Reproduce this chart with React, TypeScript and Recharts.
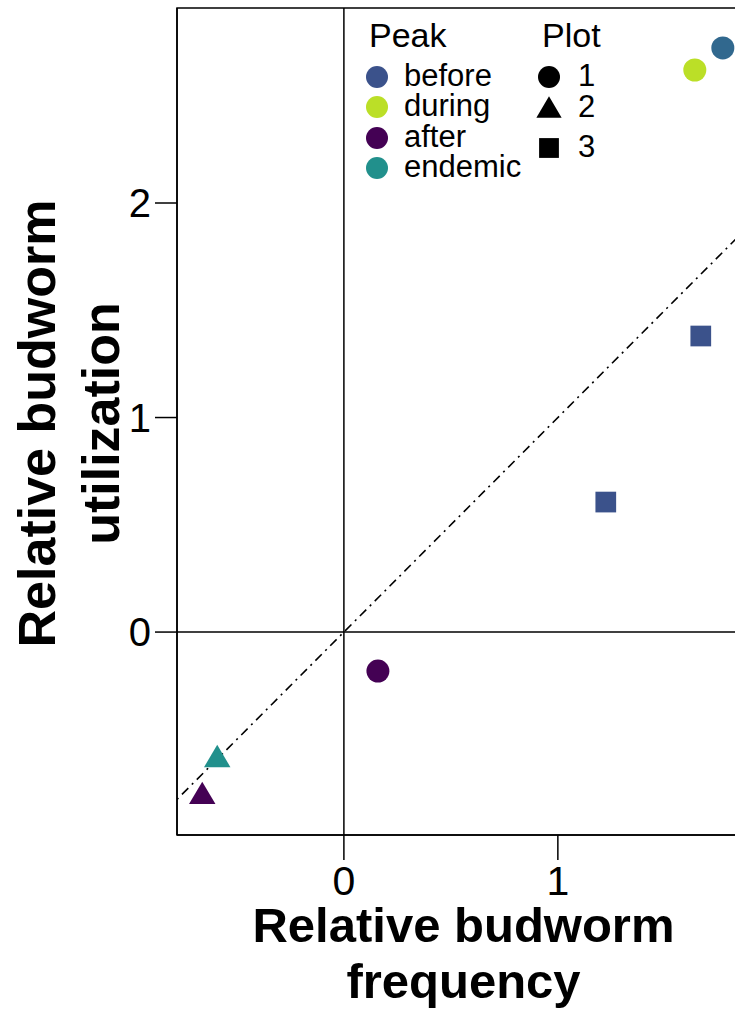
import React from "react";
import {
  ScatterChart, Scatter, XAxis, YAxis, ReferenceLine, ReferenceArea, Legend,
} from "recharts";

// peak timing groups, in legend order
const peakNames = ["before", "during", "after", "endemic"];
const peakColors = ["#3B528B", "#BBDF27", "#440154", "#21908C"];
// one point sits in a colour that the legend does not list
const extraPeak = "other";
const extraColor = "#31688E";

const plotIds = [1, 2, 3];

// one entry per point
const pointPeak = ["other", "during", "before", "before", "after", "endemic", "after"];
const pointPlot = [1, 1, 3, 3, 1, 2, 2];
const frequency = [1.771, 1.64, 1.668, 1.224, 0.159, -0.592, -0.662];
const utilization = [2.723, 2.62, 1.38, 0.606, -0.182, -0.583, -0.755];

const xTicks = [0, 1];
const yTicks = [0, 1, 2];
const xDomain: [number, number] = [-0.78, 1.898];
const yDomain: [number, number] = [-0.946, 2.909];

const points = frequency.map((f, i) => ({
  freq: f, util: utilization[i], peak: pointPeak[i], plot: pointPlot[i],
}));

const FONT = "'Liberation Sans', Arial, Helvetica, sans-serif";

const mark = (plot: number, cx: number, cy: number, color: string, r = 11.5) => {
  if (plot === 2) {
    const h = r * 1.95;
    const w = r * 2.3;
    return <polygon points={`${cx},${cy - h * 0.55} ${cx - w / 2},${cy + h * 0.45} ${cx + w / 2},${cy + h * 0.45}`} fill={color} />;
  }
  if (plot === 3) {
    const s = r * 0.9;
    return <rect x={cx - s} y={cy - s} width={s * 2} height={s * 2} fill={color} />;
  }
  return <circle cx={cx} cy={cy} r={r} fill={color} />;
};

const shapeFor = (color: string) => (props: any) => {
  const { cx, cy, payload } = props;
  if (cx == null || cy == null) return <g />;
  return mark(payload.plot, cx, cy, color);
};

function LegendBox() {
  const peakY = [77, 107, 138, 168];
  const plotY = [77, 108, 148];
  return (
    <svg width={735} height={200} style={{ fontFamily: FONT, overflow: "visible" }}>
      <text x={369} y={35} fontSize={34} dominantBaseline="central" fill="#000">Peak</text>
      {peakNames.map((p, i) => (
        <g key={p}>
          <circle cx={377} cy={peakY[i]} r={11} fill={peakColors[i]} />
          <text x={404} y={peakY[i] - 2} fontSize={31} dominantBaseline="central" fill="#000">{p}</text>
        </g>
      ))}
      <text x={542} y={35} fontSize={34} dominantBaseline="central" fill="#000">Plot</text>
      {plotIds.map((p, i) => (
        <g key={p}>
          {mark(p, 549, plotY[i], "#000", 11)}
          <text x={578} y={plotY[i] - 2} fontSize={31} dominantBaseline="central" fill="#000">{p}</text>
        </g>
      ))}
    </svg>
  );
}

export default function App() {
  const groups = [...peakNames, extraPeak];
  const colorOf = (p: string) => (p === extraPeak ? extraColor : peakColors[peakNames.indexOf(p)]);

  return (
    <div style={{ position: "fixed", left: 0, top: 0, width: 735, height: 1017, overflow: "hidden", background: "#fff", fontFamily: FONT }}>
      <ScatterChart width={760} height={1017} margin={{ top: 8, right: 10, left: 0, bottom: 0 }}>
        <XAxis
          type="number" dataKey="freq" domain={xDomain} ticks={xTicks} allowDataOverflow
          height={182} tickSize={25} tickMargin={6}
          axisLine={{ stroke: "#000", strokeWidth: 1.5 }} tickLine={{ stroke: "#000", strokeWidth: 1.5 }}
          tick={{ fill: "#000", fontSize: 41, fontFamily: FONT }}
          label={{
            content: ({ viewBox }: any) => {
              const cx = viewBox.x + viewBox.width / 2;
              return (
                <g fontFamily={FONT} fontWeight="bold" fontSize={49} fill="#000" textAnchor="middle">
                  <text x={cx} y={942}>Relative budworm</text>
                  <text x={cx} y={998}>frequency</text>
                </g>
              );
            },
          }}
        />
        <YAxis
          type="number" dataKey="util" domain={yDomain} ticks={yTicks} allowDataOverflow
          width={177} tickSize={22} tickMargin={4}
          axisLine={{ stroke: "#000", strokeWidth: 1.5 }} tickLine={{ stroke: "#000", strokeWidth: 1.5 }}
          tick={{ fill: "#000", fontSize: 40, fontFamily: FONT }}
          label={{
            content: ({ viewBox }: any) => {
              const cy = viewBox.y + viewBox.height / 2 + 2;
              return (
                <g fontFamily={FONT} fontWeight="bold" fontSize={52} fill="#000" textAnchor="middle">
                  <text x={55} y={cy} transform={`rotate(-90 55 ${cy})`}>Relative budworm</text>
                  <text x={119} y={cy} transform={`rotate(-90 119 ${cy})`}>utilization</text>
                </g>
              );
            },
          }}
        />
        <ReferenceArea x1={xDomain[0]} x2={xDomain[1]} y1={yDomain[0]} y2={yDomain[1]} fill="none" stroke="#000" strokeWidth={1.5} fillOpacity={0} />
        <ReferenceLine x={0} stroke="#000" strokeWidth={1.5} />
        <ReferenceLine y={0} stroke="#000" strokeWidth={1.5} />
        <ReferenceLine
          segment={[{ x: xDomain[0], y: xDomain[0] }, { x: xDomain[1], y: xDomain[1] }]}
          stroke="#000" strokeWidth={1.6} strokeDasharray="2 5 9 5" ifOverflow="hidden"
        />
        {groups.map((g) => (
          <Scatter
            key={g} name={g} data={points.filter((p) => p.peak === g)}
            fill={colorOf(g)} shape={shapeFor(colorOf(g))} isAnimationActive={false}
          />
        ))}
        <Legend
          layout="vertical" align="center" verticalAlign="middle"
          wrapperStyle={{ position: "absolute", left: 0, top: 0, width: 735, height: 200 }}
          content={() => <LegendBox />}
        />
      </ScatterChart>
    </div>
  );
}
